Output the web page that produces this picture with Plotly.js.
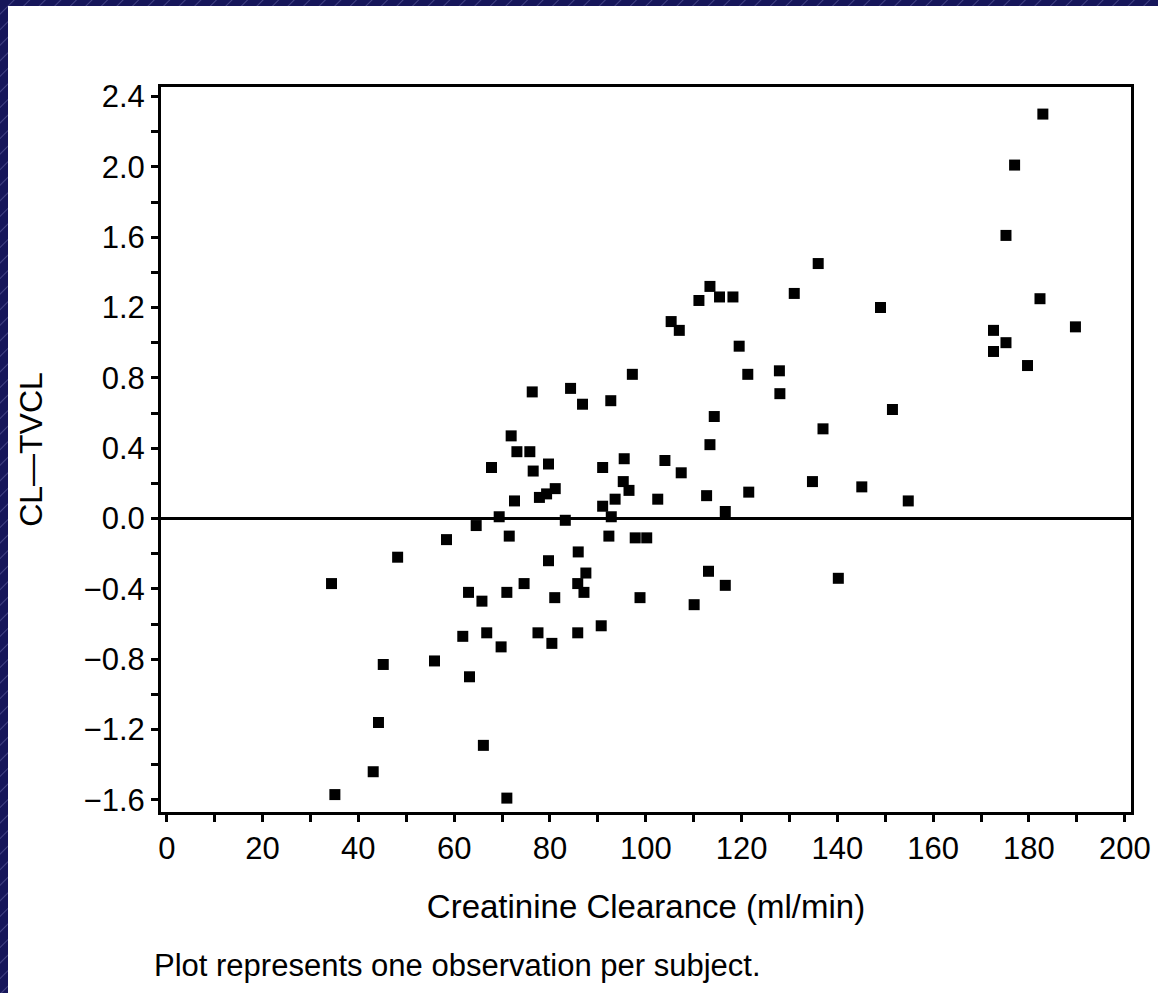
<!DOCTYPE html>
<html>
<head>
<meta charset="utf-8">
<script src="https://cdn.plot.ly/plotly-3.0.1.min.js"></script>
<style>
  html, body { margin: 0; padding: 0; width: 1158px; height: 993px; overflow: hidden;
    background-color: #16165a;
    background-image: repeating-linear-gradient(135deg, rgba(255,255,255,0) 0px, rgba(255,255,255,0) 9px, rgba(150,150,210,0.35) 10px, rgba(255,255,255,0) 11px); }
  #chart { position: absolute; left: 8px; top: 6px; width: 1150px; height: 987px; background: #fff; }
</style>
</head>
<body>
<div id="chart"></div>
<script>
// Creatinine clearance (ml/min) per subject
const creatinineClearance = [
  97.2, 76.3, 84.3, 86.8, 92.7, 71.9, 73.1, 75.8, 67.8, 76.5,
  79.7, 91.0, 95.5, 104.0, 81.1, 79.3, 77.8, 72.6, 95.3, 96.5,
  93.6, 91.0, 102.5, 92.8, 83.2, 69.4, 64.6, 58.4, 71.5, 92.3,
  97.8, 100.2, 48.2, 85.9, 79.7, 87.5, 85.8, 87.1, 74.6, 81.0,
  71.0, 63.0, 65.8, 34.4, 98.8, 90.7, 85.8, 77.5, 66.8, 61.8,
  69.8, 80.4, 55.9, 45.2, 63.2, 44.2, 66.1, 43.1, 35.1, 71.0,
  182.9, 177.0, 175.2, 136.0, 113.4, 111.1, 115.4, 118.2, 131.0, 149.0,
  182.3, 189.7, 105.3, 107.0, 172.6, 172.6, 175.2, 179.7, 119.5, 121.3,
  127.9, 128.0, 114.3, 151.5, 137.0, 113.4, 107.4, 112.7, 121.5, 134.8,
  145.1, 154.8, 116.6, 113.1, 116.6, 110.1, 140.2
];
// CL - TVCL per subject
const clMinusTvcl = [
  0.82, 0.72, 0.74, 0.65, 0.67, 0.47, 0.38, 0.38, 0.29, 0.27,
  0.31, 0.29, 0.34, 0.33, 0.17, 0.14, 0.12, 0.10, 0.21, 0.16,
  0.11, 0.07, 0.11, 0.01, -0.01, 0.01, -0.04, -0.12, -0.10, -0.10,
  -0.11, -0.11, -0.22, -0.19, -0.24, -0.31, -0.37, -0.42, -0.37, -0.45,
  -0.42, -0.42, -0.47, -0.37, -0.45, -0.61, -0.65, -0.65, -0.65, -0.67,
  -0.73, -0.71, -0.81, -0.83, -0.90, -1.16, -1.29, -1.44, -1.57, -1.59,
  2.30, 2.01, 1.61, 1.45, 1.32, 1.24, 1.26, 1.26, 1.28, 1.20,
  1.25, 1.09, 1.12, 1.07, 1.07, 0.95, 1.00, 0.87, 0.98, 0.82,
  0.84, 0.71, 0.58, 0.62, 0.51, 0.42, 0.26, 0.13, 0.15, 0.21,
  0.18, 0.10, 0.04, -0.30, -0.38, -0.49, -0.34
];
const xTitle = 'Creatinine Clearance (ml/min)';
const yTitle = 'CL—TVCL';
const footnote = 'Plot represents one observation per subject.';

const FONT = 'Liberation Sans, Arial, sans-serif';

const trace = {
  type: 'scatter',
  mode: 'markers',
  x: creatinineClearance,
  y: clMinusTvcl,
  marker: { symbol: 'square', size: 11, color: '#000' },
  hoverinfo: 'x+y'
};

const layout = {
  width: 1150,
  height: 987,
  paper_bgcolor: '#ffffff',
  plot_bgcolor: '#ffffff',
  showlegend: false,
  margin: { l: 153, r: 27, t: 81, b: 181 },
  font: { family: FONT, color: '#000', size: 31 },
  xaxis: {
    range: [-1.2, 201.3],
    tickmode: 'linear', tick0: 0, dtick: 20,
    ticks: 'outside', ticklen: 7, tickwidth: 3, tickcolor: '#000',
    minor: { dtick: 10, ticks: 'outside', ticklen: 7, tickwidth: 3, tickcolor: '#000' },
    showgrid: false, zeroline: false,
    showline: true, linecolor: '#000', linewidth: 3, mirror: true,
    tickfont: { family: FONT, size: 31, color: '#000' },
    title: { text: xTitle, font: { family: FONT, size: 33, color: '#000' }, standoff: 30 }
  },
  yaxis: {
    range: [-1.669, 2.454],
    tickmode: 'linear', tick0: 0, dtick: 0.4, tickformat: '.1f',
    ticks: 'outside', ticklen: 7, tickwidth: 3, tickcolor: '#000',
    minor: { dtick: 0.2, ticks: 'outside', ticklen: 7, tickwidth: 3, tickcolor: '#000' },
    showgrid: false,
    zeroline: true, zerolinecolor: '#000', zerolinewidth: 3,
    showline: true, linecolor: '#000', linewidth: 3, mirror: true,
    tickfont: { family: FONT, size: 31, color: '#000' },
    title: { text: yTitle, font: { family: FONT, size: 32, color: '#000' }, standoff: 32 }
  },
  annotations: [{
    text: footnote, xref: 'paper', yref: 'paper',
    x: -0.0093, y: -0.212, xanchor: 'left', yanchor: 'middle',
    showarrow: false, font: { family: FONT, size: 31, color: '#000' }
  }]
};

Plotly.newPlot('chart', [trace], layout, { displayModeBar: false, staticPlot: true });
</script>
</body>
</html>
